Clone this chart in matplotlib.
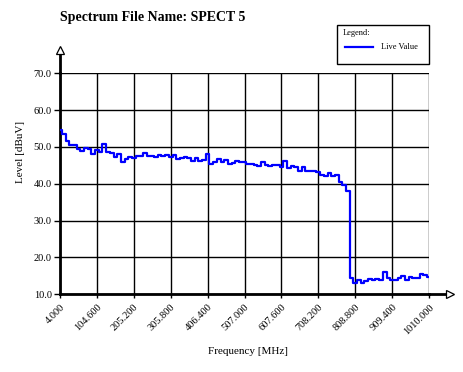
import matplotlib.pyplot as plt
import numpy as np
from matplotlib.patches import Rectangle
from matplotlib.lines import Line2D

plt.rcParams['font.family'] = ['Liberation Serif', 'DejaVu Serif']

# frequency grid, 4 .. 1010 MHz
freq = np.linspace(4.0, 1010.0, 101)
# live value level [dBuV]
level = [54.5, 53.5, 51.5, 50.5, 50.5, 49.5, 49.0, 49.8, 49.5, 48.2,
         49.3, 48.5, 50.8, 48.5, 48.3, 47.2, 48.0, 46.0, 46.8, 47.3,
         47.0, 47.5, 47.5, 48.3, 47.6, 47.6, 47.3, 47.8, 47.5, 47.7,
         47.3, 47.8, 46.8, 46.9, 47.3, 47.0, 46.3, 46.9, 46.3, 46.4,
         48.0, 45.5, 46.0, 46.8, 46.0, 46.5, 45.4, 45.7, 46.2, 45.8,
         45.8, 45.3, 45.5, 45.0, 44.8, 45.8, 45.0, 44.8, 45.0, 45.0,
         44.6, 46.3, 44.3, 44.8, 44.5, 43.5, 44.6, 43.4, 43.4, 43.4,
         43.3, 42.5, 42.2, 43.0, 42.0, 42.3, 40.6, 39.8, 38.0, 14.5,
         13.2, 13.8, 13.0, 13.5, 14.2, 13.8, 14.1, 13.9, 16.0, 14.3,
         13.9, 14.0, 14.5, 15.0, 14.0, 14.6, 14.3, 14.5, 15.5, 15.3, 14.8]

xticks = np.linspace(4.0, 1010.0, 11)
xlabels = ['%.3f' % v for v in xticks]
yticks = [10.0, 20.0, 30.0, 40.0, 50.0, 60.0, 70.0]

fig = plt.figure(figsize=(4.63, 3.72), dpi=100)
ax = fig.add_axes([60/463, 1 - 294.3/372, 369/463, 221/372])

ax.plot(freq, level, color='#0000ff', lw=1.6, drawstyle='steps-mid', zorder=3)

ax.set_xlim(4.0, 1010.0)
ax.set_ylim(10.0, 70.0)
ax.set_xticks(xticks)
ax.set_xticklabels(xlabels, rotation=45, ha='right', rotation_mode='anchor', fontsize=7.5)
ax.set_yticks(yticks)
ax.set_yticklabels(['%.1f' % v for v in yticks], fontsize=7.5)
ax.tick_params(axis='x', length=3, width=1, pad=3)
ax.tick_params(axis='y', length=4, width=1, pad=2)
ax.grid(True, color='black', lw=1)
ax.set_axisbelow(True)
for s in ['top', 'right']:
    ax.spines[s].set_visible(False)
for s in ['left', 'bottom']:
    ax.spines[s].set_linewidth(2)

# axis arrows (open heads)
ax.plot([1, 1.047], [0, 0], transform=ax.transAxes, color='black', lw=2, clip_on=False)
ax.plot([1.056], [0], transform=ax.transAxes, marker='>', ms=6, mfc='white', mec='black',
        mew=0.9, clip_on=False)
ax.plot([0, 0], [1, 1.094], transform=ax.transAxes, color='black', lw=2, clip_on=False)
ax.plot([0], [1.105], transform=ax.transAxes, marker='^', ms=6, mfc='white', mec='black',
        mew=0.9, clip_on=False)

ax.set_xlabel('Frequency [MHz]', fontsize=8)
ax.xaxis.set_label_coords(0.509, -0.238)
ax.set_ylabel('Level [dBuV]', fontsize=8)
ax.yaxis.set_label_coords(-0.095, 0.644)

fig.text(60/463, 1 - 18/372, 'Spectrum File Name: SPECT 5', fontsize=10,
         fontweight='bold', ha='left', va='center')

# legend box
fig.add_artist(Rectangle((337/463, 1 - 64/372), 92/463, 39/372, transform=fig.transFigure,
                         fill=False, ec='black', lw=1))
fig.text(343/463, 1 - 33/372, 'Legend:', fontsize=6, ha='left', va='center')
fig.add_artist(Line2D([345/463, 373/463], [1 - 47/372, 1 - 47/372], transform=fig.transFigure,
                      color='#0000ff', lw=1.6))
fig.text(381/463, 1 - 47/372, 'Live Value', fontsize=6, ha='left', va='center')

fig.savefig('out.png', dpi=100)
